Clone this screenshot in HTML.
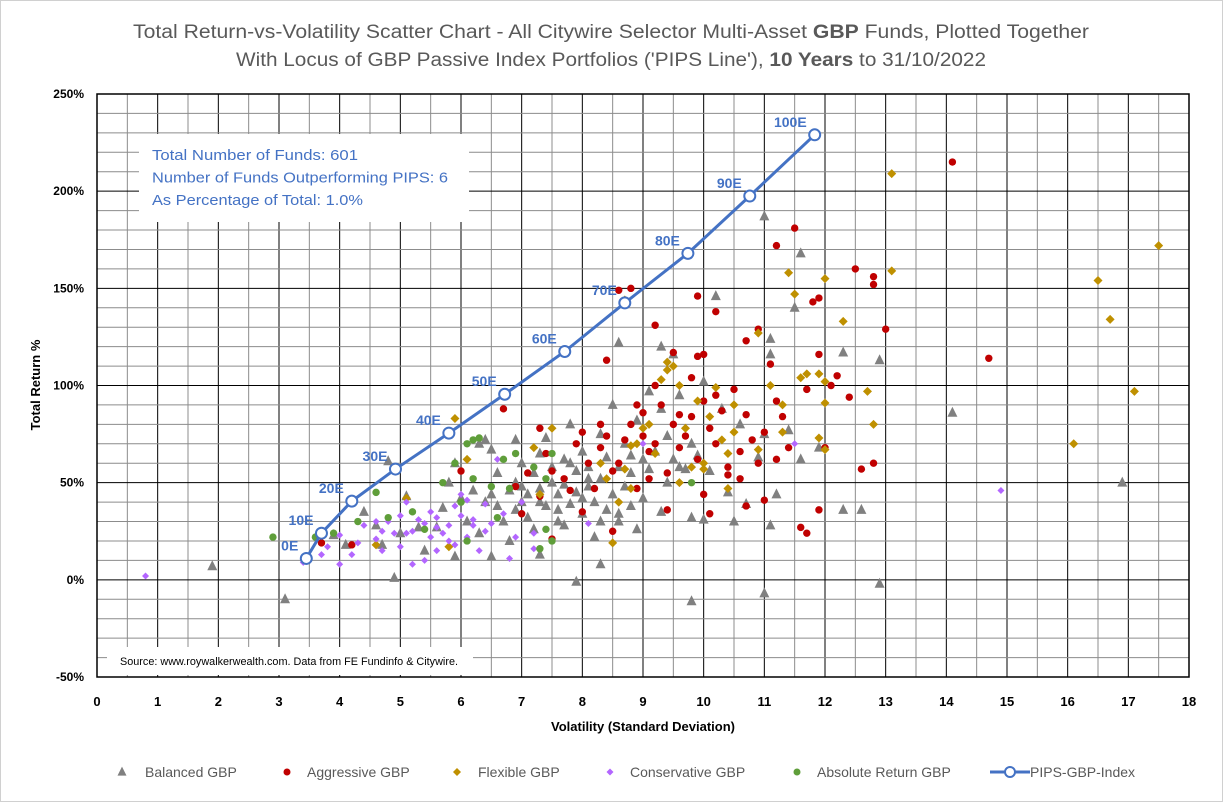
<!DOCTYPE html>
<html><head><meta charset="utf-8"><style>
html,body{margin:0;padding:0;background:#fff;}
svg{display:block;font-family:"Liberation Sans",sans-serif;}
</style></head><body>
<svg id="chart" width="1223" height="802" viewBox="0 0 1223 802" xmlns="http://www.w3.org/2000/svg">
<rect x="0.5" y="0.5" width="1222" height="801" fill="#fff" stroke="#d0d0d0"/>
<text x="611" y="38" text-anchor="middle" font-size="19" fill="#595959" textLength="956" lengthAdjust="spacingAndGlyphs">Total Return-vs-Volatility Scatter Chart - All Citywire Selector Multi-Asset <tspan font-weight="bold">GBP</tspan> Funds, Plotted Together</text>
<text x="611" y="66" text-anchor="middle" font-size="19" fill="#595959" textLength="750" lengthAdjust="spacingAndGlyphs">With Locus of GBP Passive Index Portfolios ('PIPS Line'), <tspan font-weight="bold">10 Years</tspan> to 31/10/2022</text>
<g id="grid"></g>
<g id="marks"></g>
<g id="overlay"></g>
<text transform="translate(40,385) rotate(-90)" text-anchor="middle" font-size="13" font-weight="bold" fill="#000">Total Return %</text>
<text x="643" y="731" text-anchor="middle" font-size="13" font-weight="bold" fill="#000">Volatility (Standard Deviation)</text>
<g id="legend"></g>
</svg>
<script>
const xTicks=[0,1,2,3,4,5,6,7,8,9,10,11,12,13,14,15,16,17,18];
const yTicks=[-50,0,50,100,150,200,250];
const yTickLabels=["-50%","0%","50%","100%","150%","200%","250%"];
const pipsLabels=["0E","10E","20E","30E","40E","50E","60E","70E","80E","90E","100E"];
const pipsX=[3.45,3.7,4.2,4.92,5.8,6.72,7.71,8.7,9.74,10.76,11.83];
const pipsY=[11,24,40.5,57,75.5,95.5,117.5,142.5,168,197.5,229];
const balanced=[[1.9,7],[3.1,-10],[4.9,1],[7.9,-1],[9.8,-11],[11.0,-7],[12.9,-2],[16.9,50],[14.1,86],[12.9,113],[11.0,187],[11.6,168],[11.5,140],[10.2,146],[8.6,122],[9.3,120],[9.5,116],[11.1,124],[11.1,116],[12.3,117],[12.3,36],[12.6,36],[11.1,28],[10.5,30],[9.8,32],[8.3,8],[7.3,13],[5.9,12],[6.5,12],[4.6,28],[3.9,23],[4.4,35],[4.8,61],[5.1,43],[5.3,27],[5.6,27],[5.7,37],[5.8,50],[5.9,60],[6.0,42],[6.1,30],[6.2,46],[6.3,70],[6.4,72],[6.5,44],[6.5,67],[6.6,38],[6.6,55],[6.7,30],[6.8,46],[6.9,50],[6.9,72],[7.0,40],[7.0,60],[7.1,44],[7.1,32],[7.2,55],[7.2,26],[7.3,47],[7.3,65],[7.4,38],[7.4,73],[7.5,50],[7.5,58],[7.6,44],[7.6,30],[7.7,62],[7.7,49],[7.8,39],[7.8,80],[7.9,56],[7.9,45],[8.0,34],[8.0,66],[8.1,48],[8.1,58],[8.2,40],[8.2,22],[8.3,75],[8.3,52],[8.4,36],[8.4,63],[8.5,44],[8.5,90],[8.6,30],[8.6,58],[8.7,70],[8.7,48],[8.8,38],[8.8,55],[8.9,82],[9.0,62],[9.0,42],[9.1,97],[9.1,57],[9.2,66],[9.3,88],[9.4,74],[9.4,50],[9.5,62],[9.6,95],[9.7,57],[9.8,70],[9.9,64],[10.0,102],[10.1,56],[10.3,88],[10.4,45],[10.6,80],[10.7,39],[10.9,63],[11.0,75],[11.2,44],[11.4,77],[11.6,62],[10.0,31],[9.3,35],[8.9,26],[6.8,20],[7.7,28],[4.1,18],[4.7,18],[5.0,24],[5.4,15],[6.3,24],[8.6,34],[9.6,58],[11.9,68],[6.4,40],[7.0,48],[7.6,36],[8.0,42],[8.3,30],[8.8,64],[7.3,40],[6.9,36],[8.1,52],[7.8,60]];
const aggressive=[[14.1,215],[11.5,181],[11.2,172],[11.9,145],[11.8,143],[12.5,160],[12.8,156],[12.8,152],[13.0,129],[14.7,114],[12.2,105],[12.4,94],[12.8,60],[12.6,57],[11.9,36],[11.6,27],[11.7,24],[8.6,149],[8.8,150],[9.9,146],[10.2,138],[9.2,131],[8.4,113],[9.5,117],[9.9,115],[10.0,116],[10.7,123],[10.9,129],[11.1,111],[11.2,92],[11.9,116],[11.7,98],[11.3,84],[12.1,100],[12.0,68],[11.4,68],[11.2,62],[10.7,38],[11.0,41],[10.0,44],[10.1,34],[9.4,36],[10.6,52],[6.7,88],[6.0,56],[4.2,18],[3.7,19],[7.5,21],[7.3,43],[7.3,78],[7.5,56],[7.7,52],[7.8,46],[7.9,70],[8.0,35],[8.1,60],[8.2,47],[8.3,68],[8.4,74],[8.5,56],[8.6,60],[8.7,72],[8.8,80],[8.9,47],[9.0,86],[9.1,66],[9.2,70],[9.2,100],[9.3,90],[9.4,55],[9.5,80],[9.6,68],[9.7,74],[9.8,84],[9.9,62],[10.0,92],[10.1,78],[10.2,70],[10.3,87],[10.4,54],[10.5,98],[10.6,66],[10.7,85],[10.8,72],[10.9,60],[11.0,76],[7.0,34],[7.4,65],[8.0,76],[6.9,48],[7.1,55],[8.5,25],[9.0,74],[10.4,58],[8.9,90],[9.6,85],[10.2,95],[8.3,80],[9.1,52],[9.8,104]];
const flexible=[[13.1,209],[17.5,172],[16.5,154],[16.7,134],[17.1,97],[16.1,70],[13.1,159],[11.4,158],[11.5,147],[12.0,155],[12.3,133],[12.7,97],[12.0,91],[11.9,73],[11.9,106],[11.7,106],[12.0,102],[11.6,104],[11.3,90],[11.1,100],[10.9,127],[10.5,90],[10.4,65],[10.3,72],[10.2,99],[10.1,84],[10.0,60],[10.0,57],[10.4,47],[9.9,92],[9.7,78],[9.6,100],[9.4,112],[9.4,108],[9.5,110],[9.3,103],[9.1,80],[9.0,78],[8.9,70],[8.8,69],[8.7,57],[8.6,40],[8.5,19],[8.3,60],[7.5,78],[7.3,44],[7.2,68],[6.1,62],[5.9,83],[5.1,42],[4.6,18],[5.8,17],[8.7,144],[12.8,80],[12.0,67],[11.3,76],[10.9,67],[10.5,76],[9.8,58],[9.6,50],[9.2,65],[8.8,47],[8.4,52]];
const conservative=[[0.8,2],[3.4,9],[3.8,17],[3.7,13],[4.0,8],[4.2,13],[4.3,19],[4.6,30],[4.6,21],[4.7,15],[4.7,25],[4.8,30],[4.9,24],[5.0,17],[5.0,33],[5.1,40],[5.1,24],[5.2,25],[5.3,31],[5.4,29],[5.5,22],[5.5,35],[5.6,27],[5.6,32],[5.7,24],[5.8,28],[5.8,20],[5.9,38],[6.0,33],[6.0,44],[6.1,41],[6.1,22],[6.2,28],[6.2,31],[6.4,25],[6.4,39],[6.5,29],[6.6,62],[6.7,34],[6.9,22],[6.8,11],[7.0,40],[7.2,24],[7.2,16],[5.4,10],[5.6,15],[5.9,18],[4.0,23],[8.1,29],[9.0,70],[11.5,70],[14.9,46],[5.2,8],[6.3,15],[4.4,28]];
const absoluteRet=[[2.9,22],[3.6,22],[3.9,24],[4.3,30],[4.6,45],[4.8,32],[5.2,35],[5.4,26],[5.7,50],[5.9,60],[6.0,40],[6.1,20],[6.2,72],[6.3,73],[6.1,70],[6.5,48],[6.6,32],[6.7,62],[6.8,47],[6.9,65],[7.2,58],[7.3,16],[7.4,26],[7.5,65],[7.5,20],[7.4,52],[9.8,50],[6.2,52]];

const NS="http://www.w3.org/2000/svg";
const L=97,R=1189,T=94,B=677;
const xMin=0,xMax=18,yMin=-50,yMax=250;
function sx(v){return L+(v-xMin)/(xMax-xMin)*(R-L);}
function sy(v){return B-(v-yMin)/(yMax-yMin)*(B-T);}
function el(tag,attrs,parent){const e=document.createElementNS(NS,tag);for(const k in attrs)e.setAttribute(k,attrs[k]);parent.appendChild(e);return e;}
const grid=document.getElementById('grid');
for(let v=xMin;v<=xMax+1e-9;v+=0.5){const major=Math.abs(v-Math.round(v))<1e-9;
 const ln=el('line',{x1:sx(v),x2:sx(v),y1:T,y2:B,stroke:major?'#000':'#8c8c8c','stroke-width':1},grid);
 
 }
for(let v=yMin;v<=yMax+1e-9;v+=10){const major=(Math.round(v)%50===0);
 const ln=el('line',{x1:L,x2:R,y1:sy(v),y2:sy(v),stroke:major?'#000':'#8c8c8c','stroke-width':1},grid);
 
 }
const frame=el('rect',{x:L,y:T,width:R-L,height:B-T,fill:'none',stroke:'#000','stroke-width':1.5},grid);


xTicks.forEach(t=>{const tx=el('text',{x:sx(t),y:706,'text-anchor':'middle','font-size':13,'font-weight':'bold',fill:'#000'},grid);tx.textContent=t;
 
 });
yTicks.forEach((t,i)=>{const tx=el('text',{x:84,y:sy(t)+4,'text-anchor':'end','font-size':12,'font-weight':'bold',fill:'#000'},grid);tx.textContent=yTickLabels[i];
 
 });

const marks=document.getElementById('marks');
function tri(x,y,s,c,p){return el('path',{d:`M${x},${y-s*0.6}L${x+s/2},${y+s*0.4}L${x-s/2},${y+s*0.4}Z`,fill:c},p);}
function dia(x,y,s,c,p){return el('path',{d:`M${x},${y-s/2}L${x+s/2},${y}L${x},${y+s/2}L${x-s/2},${y}Z`,fill:c},p);}
const gB=el('g',{},marks);
balanced.forEach(d=>{const m=tri(sx(d[0]),sy(d[1]),10,'#808080',gB);
 
 });
const gA=el('g',{},marks);
aggressive.forEach(d=>{const m=el('circle',{cx:sx(d[0]),cy:sy(d[1]),r:3.7,fill:'#c00000'},gA);
 
 });
const gF=el('g',{},marks);
flexible.forEach(d=>{const m=dia(sx(d[0]),sy(d[1]),9,'#bf9000',gF);
 
 });
const gC=el('g',{},marks);
conservative.forEach(d=>{const m=dia(sx(d[0]),sy(d[1]),7,'#b366ff',gC);
 
 });
const gG=el('g',{},marks);
absoluteRet.forEach(d=>{const m=el('circle',{cx:sx(d[0]),cy:sy(d[1]),r:3.7,fill:'#5f9e3a'},gG);
 
 });

const ov=document.getElementById('overlay');
const box=el('rect',{x:139,y:134,width:330,height:88,fill:'#fff'},ov);


const infoLines=["Total Number of Funds: 601","Number of Funds Outperforming PIPS: 6","As Percentage of Total: 1.0%"];
const infoLens=[206,296,211];
infoLines.forEach((s,i)=>{
 const t=el('text',{x:152,y:160+i*22.5,'font-size':15,fill:'#4472c4',textLength:infoLens[i],lengthAdjust:'spacingAndGlyphs'},ov);t.textContent=s;
 
 });
const src=el('rect',{x:107,y:647,width:366,height:28,fill:'#fff'},ov);


const st=el('text',{x:120,y:665,'font-size':11,fill:'#000',textLength:338,lengthAdjust:'spacingAndGlyphs'},ov);st.textContent="Source: www.roywalkerwealth.com.  Data from FE Fundinfo & Citywire.";


const pts=pipsX.map((x,i)=>sx(x)+','+sy(pipsY[i])).join(' ');
const pl=el('polyline',{points:pts,fill:'none',stroke:'#4472c4','stroke-width':3},ov);


pipsX.forEach((x,i)=>{const c=el('circle',{cx:sx(x),cy:sy(pipsY[i]),r:5.5,fill:'#fff',stroke:'#4472c4','stroke-width':2},ov);
 
 
 const t=el('text',{x:sx(x)-8,y:sy(pipsY[i])-8,'text-anchor':'end','font-size':14,'font-weight':'bold',fill:'#4472c4'},ov);t.textContent=pipsLabels[i];
 
 });
const lg=document.getElementById('legend');
const items=[["tri",122,145,"Balanced GBP","#808080"],["circ",287,307,"Aggressive GBP","#c00000"],["dia",457,478,"Flexible GBP","#bf9000"],["dia2",610,630,"Conservative GBP","#b366ff"],["circ",797,817,"Absolute Return GBP","#5f9e3a"],["line",1010,1016,"PIPS-GBP-Index","#4472c4"]];
items.forEach(it=>{const g=el('g',{},lg);
 
 
 const y=772;
 if(it[0]==='tri')tri(it[1],y,9,it[4],g);
 else if(it[0]==='circ')el('circle',{cx:it[1],cy:y,r:3.5,fill:it[4]},g);
 else if(it[0]==='dia')dia(it[1],y,8,it[4],g);
 else if(it[0]==='dia2')dia(it[1],y,7,it[4],g);
 else {el('line',{x1:990,x2:1030,y1:y,y2:y,stroke:it[4],'stroke-width':3},g);el('circle',{cx:1010,cy:y,r:5,fill:'#fff',stroke:it[4],'stroke-width':2},g);}
 const t=el('text',{x:it[2]+(it[0]==='line'?14:0),y:y+5,'font-size':14,fill:'#595959'},g);t.textContent=it[3];});
</script>
</body></html>
